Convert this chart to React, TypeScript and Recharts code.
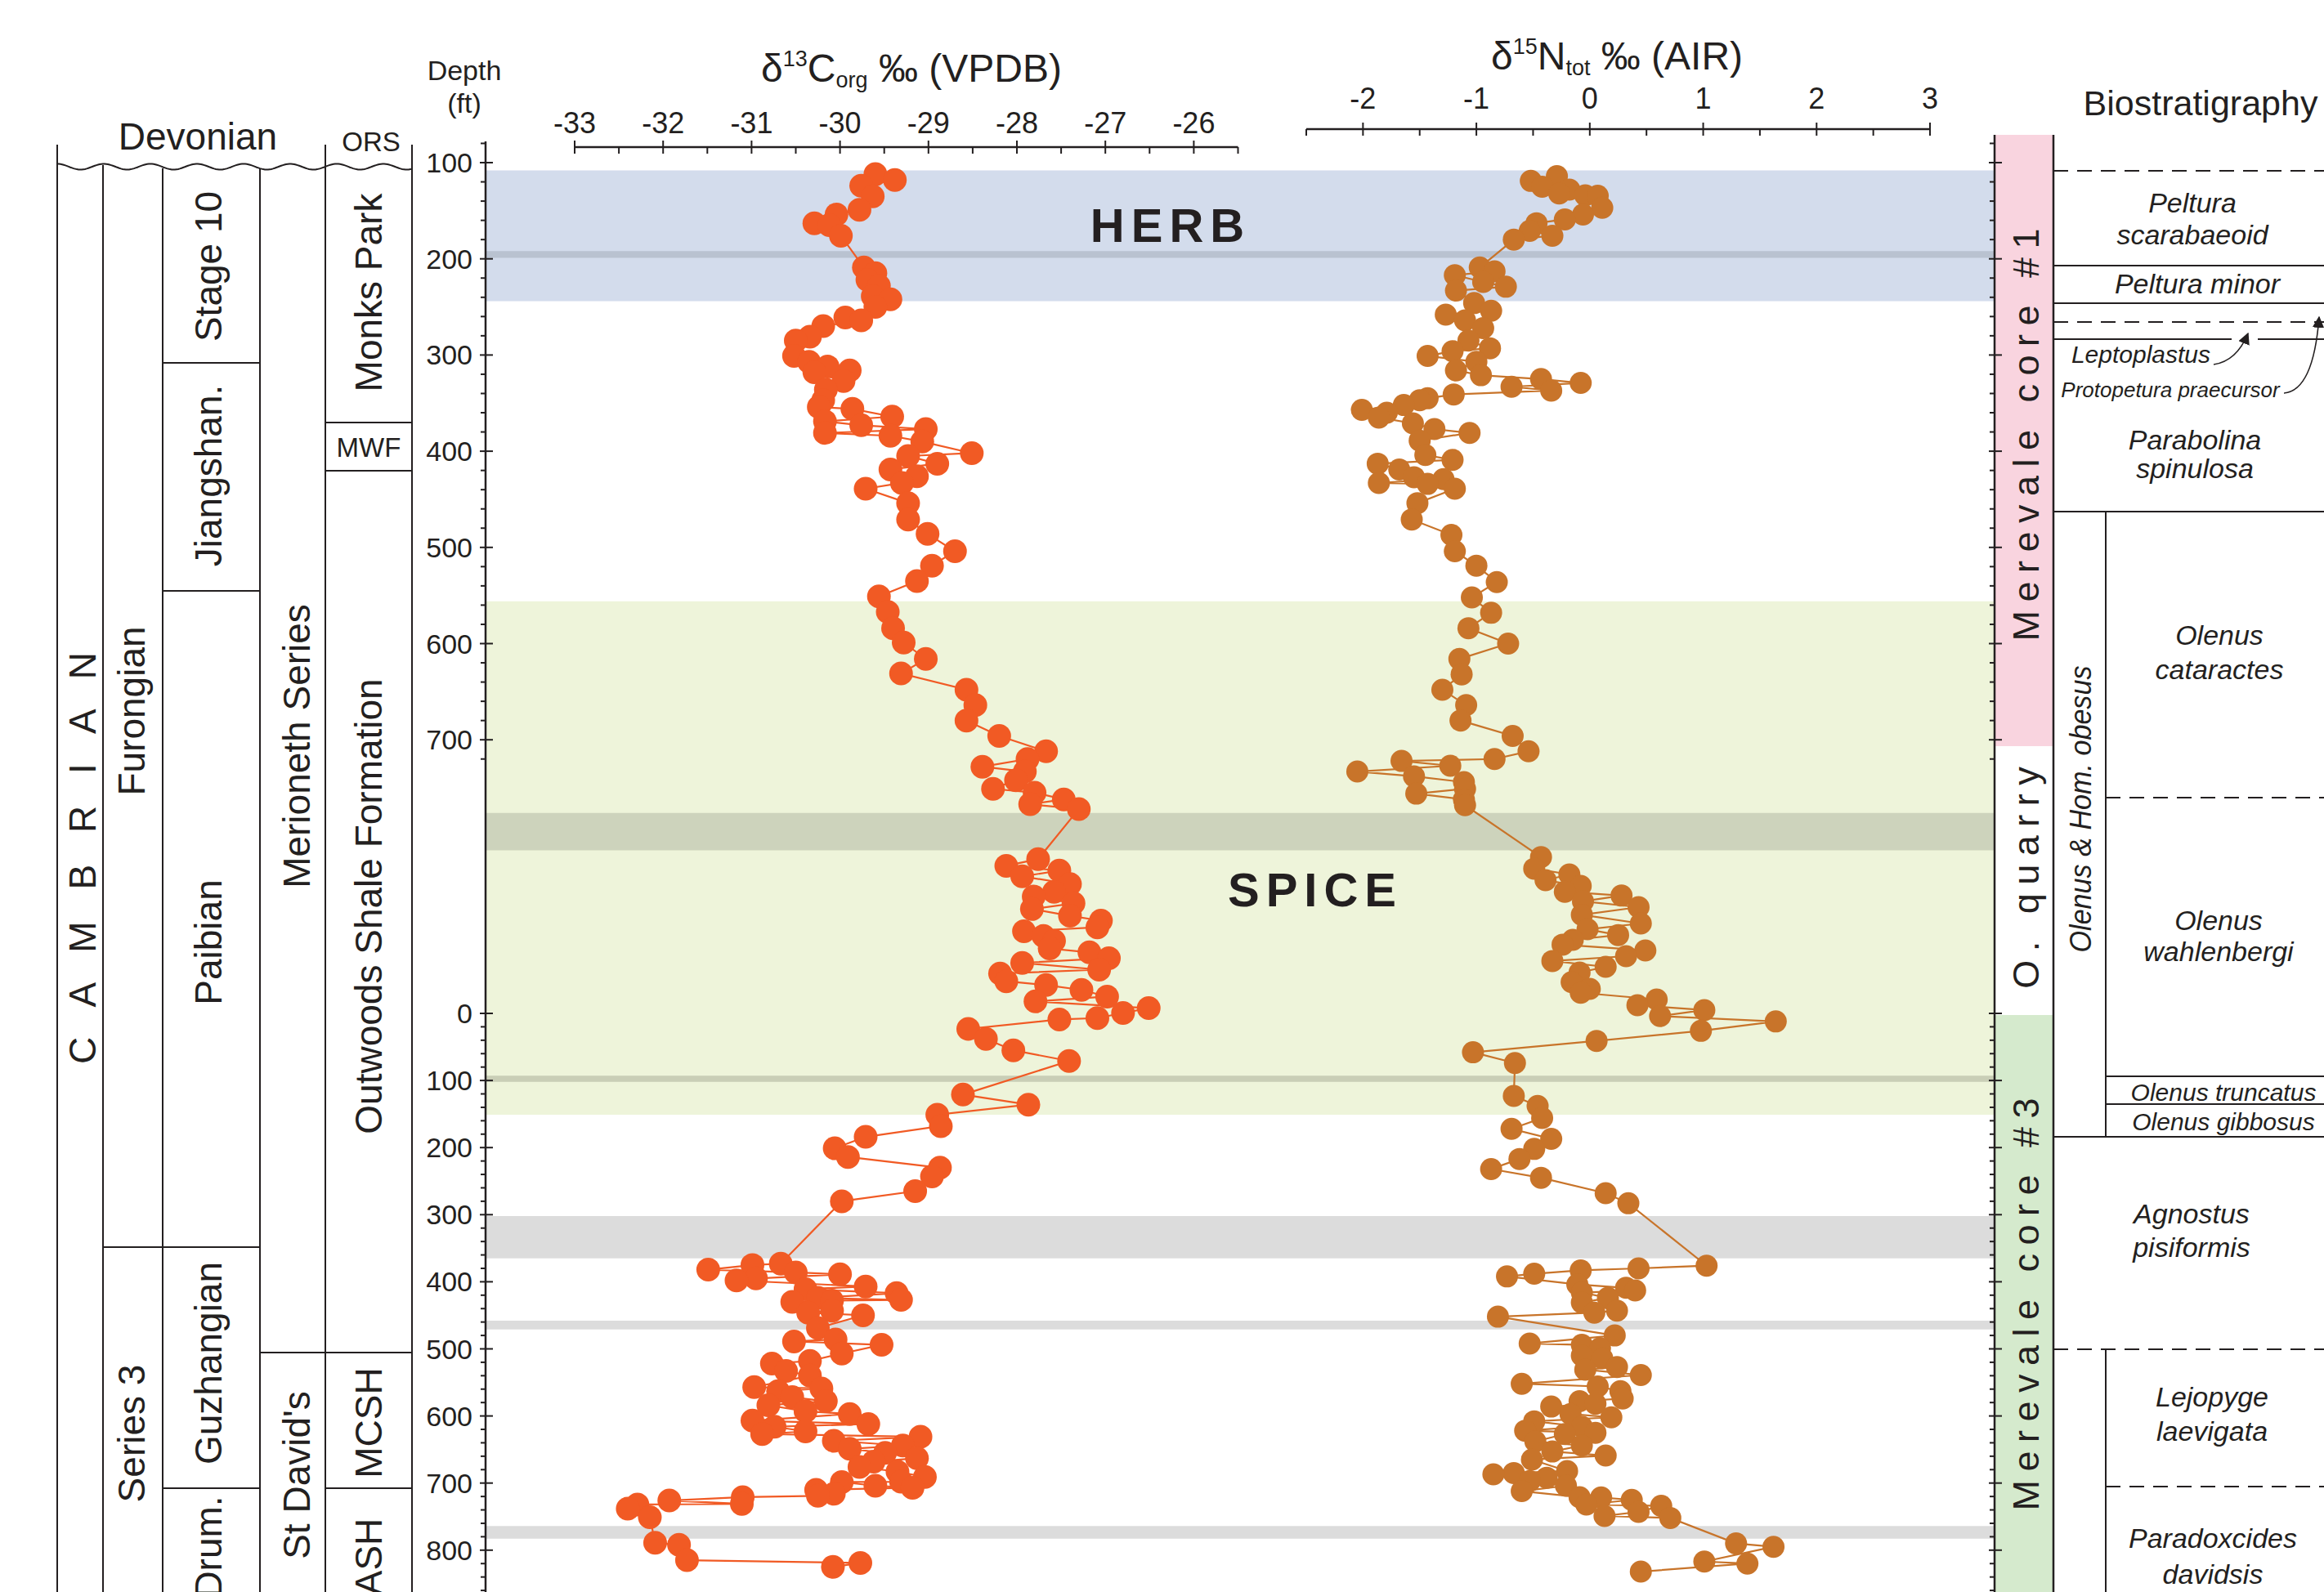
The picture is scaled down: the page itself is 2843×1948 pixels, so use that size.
import React from "react";
import { ComposedChart, Line, XAxis, YAxis, ReferenceArea } from "recharts";

const W = 2843;
const H = 1948;
const INK = "#231f20";
const FONT = '"Liberation Sans", Arial, Helvetica, sans-serif';
const C_COLOR = "#f15a24";
const N_COLOR = "#c8742a";

// vertical scale: Merevale core #1 (and O. quarry below it) in ft, core #3 with its own, tighter scale
const Y100 = 199;
const PX_FT = 1.177;
const CORE3_Y0 = 1240;
const CORE3_PX_FT = 0.821;
const posAt = (y: number) => 100 + (y - Y100) / PX_FT;
const core3Pos = (d: number) => posAt(CORE3_Y0 + d * CORE3_PX_FT);

type Pt = [number, number];

// [d13C, depth] — Merevale core #1 + O. quarry (positions on the core #1 scale)
const c13Core1: Pt[] = [
  [-29.38, 118], [-29.6, 112], [-29.76, 124], [-29.63, 135], [-29.78, 149], [-30.04, 154], [-30.29, 163],
  [-30.12, 165], [-29.99, 176], [-29.73, 209], [-29.6, 215], [-29.69, 222], [-29.56, 228], [-29.43, 242],
  [-29.63, 239], [-29.6, 250], [-29.76, 264], [-29.94, 261], [-30.19, 270], [-30.34, 281], [-30.5, 285],
  [-30.52, 301], [-30.35, 307], [-30.29, 318], [-30.14, 312], [-29.89, 316], [-29.96, 327], [-30.16, 336],
  [-30.19, 347], [-30.24, 354], [-29.86, 356], [-29.76, 373], [-30.17, 369], [-30.17, 381], [-29.41, 364],
  [-29.43, 384], [-29.03, 377], [-29.07, 390], [-28.51, 402], [-29.23, 405], [-28.9, 413], [-29.43, 419],
  [-29.13, 426], [-29.3, 433], [-29.71, 439], [-29.23, 454], [-29.23, 471], [-29.01, 486], [-28.7, 504],
  [-28.96, 519], [-29.13, 535], [-29.56, 551], [-29.46, 567], [-29.4, 584], [-29.28, 599], [-29.03, 616],
  [-29.31, 631], [-28.57, 648], [-28.47, 664], [-28.57, 680], [-28.2, 696], [-27.67, 712], [-27.88, 720],
  [-28.39, 728], [-27.91, 733], [-28.01, 742], [-28.27, 751], [-27.8, 755], [-27.85, 767], [-27.47, 762],
  [-27.3, 772],
  [-27.76, 824], [-28.12, 831], [-27.94, 842], [-27.52, 836], [-27.4, 850], [-27.58, 858], [-27.81, 863],
  [-27.83, 876], [-27.36, 870], [-27.4, 883], [-27.05, 888], [-27.09, 895], [-27.92, 899], [-27.7, 904],
  [-27.58, 909], [-27.63, 917], [-27.18, 921], [-26.96, 927], [-27.94, 932], [-27.07, 939], [-28.19, 943],
  [-28.12, 951], [-27.67, 955], [-27.27, 960], [-26.98, 967], [-27.79, 972], [-26.51, 979], [-26.8, 984],
];

// [d13C, depth ft] — Merevale core #3
const c13Core3: Pt[] = [
  [-27.09, 7], [-27.52, 9], [-28.55, 23], [-28.35, 38], [-28.04, 55], [-27.41, 71], [-28.61, 121], [-27.87, 136],
  [-28.9, 151], [-28.86, 168], [-29.71, 184], [-30.06, 201], [-29.91, 214], [-28.87, 230], [-28.96, 243],
  [-29.15, 265], [-29.98, 280], [-30.67, 373], [-30.99, 375], [-31.49, 382], [-31.17, 398], [-30.95, 395],
  [-30.5, 386], [-30.0, 389], [-29.71, 407], [-29.36, 417], [-29.31, 427], [-30.39, 411], [-30.54, 430],
  [-30.25, 424], [-30.09, 428], [-30.36, 446], [-30.09, 443], [-29.74, 450], [-30.25, 469], [-30.52, 489],
  [-29.53, 494], [-30.05, 486], [-29.98, 507], [-30.34, 518], [-30.77, 522], [-30.61, 533], [-30.34, 540],
  [-30.97, 557], [-30.7, 563], [-30.21, 559], [-30.81, 584], [-30.54, 572], [-30.16, 578], [-30.39, 593],
  [-29.89, 597], [-30.99, 607], [-30.74, 616], [-30.88, 627], [-30.39, 623], [-29.68, 612], [-30.07, 637],
  [-29.89, 649], [-29.09, 631], [-29.29, 644], [-29.49, 655], [-29.13, 663], [-29.78, 676], [-29.62, 668],
  [-29.35, 683], [-29.04, 691], [-29.31, 698], [-29.18, 707], [-29.98, 698.5], [-29.6, 704], [-30.27, 710],
  [-30.07, 716], [-30.25, 719], [-31.1, 721], [-31.11, 731], [-31.93, 726], [-32.4, 738], [-32.29, 732],
  [-32.15, 751], [-32.09, 789], [-31.82, 792], [-31.73, 815], [-30.08, 825], [-29.77, 819],
];

// [d15N, depth] — Merevale core #1 + O. quarry
const n15Core1: Pt[] = [
  [-0.52, 119], [-0.42, 125], [-0.29, 114], [-0.27, 132], [-0.18, 128], [-0.04, 134], [0.07, 134.5], [0.11, 147],
  [-0.06, 154], [-0.22, 159], [-0.33, 176], [-0.47, 163], [-0.53, 171], [-0.67, 180], [-0.97, 209], [-0.84, 213],
  [-1.19, 217], [-1.18, 233], [-0.74, 229], [-0.94, 224], [-1.02, 246], [-0.87, 254], [-1.27, 258], [-1.1, 264],
  [-0.94, 272], [-1.07, 285], [-0.88, 293], [-1.43, 301], [-1.21, 296], [-1.0, 307], [-1.18, 316], [-0.96, 321],
  [-0.43, 325], [-0.08, 329], [-0.34, 337], [-0.69, 333], [-1.2, 341], [-1.43, 345], [-1.64, 352], [-1.5, 347],
  [-2.01, 357], [-1.86, 365], [-1.79, 360], [-1.56, 371], [-1.37, 377], [-1.06, 381], [-1.5, 389], [-1.45, 404],
  [-1.87, 413], [-1.21, 409], [-1.68, 419], [-1.55, 427], [-1.86, 433], [-1.43, 434], [-1.29, 429], [-1.19, 439],
  [-1.52, 454], [-1.57, 471], [-1.22, 487], [-1.19, 504], [-1.0, 519], [-0.82, 536], [-1.04, 552], [-0.87, 568],
  [-1.07, 584], [-0.72, 600], [-1.15, 616], [-1.13, 632], [-1.3, 648], [-1.09, 664], [-1.14, 680], [-0.68, 696],
  [-0.54, 712], [-0.84, 720], [-1.66, 722], [-2.05, 733], [-1.23, 727], [-1.55, 738], [-1.11, 744], [-1.53, 756],
  [-1.1, 751], [-1.11, 762], [-1.1, 768],
  [-0.43, 822], [-0.49, 834], [-0.39, 846], [-0.18, 840], [-0.22, 858], [-0.08, 852], [0.28, 862], [-0.06, 868],
  [0.43, 874], [-0.07, 882], [0.45, 891], [-0.02, 897], [0.25, 903], [-0.15, 908], [-0.24, 913], [0.49, 919],
  [0.32, 925], [-0.33, 930], [0.14, 936], [-0.09, 942], [-0.16, 952], [0.0, 959], [-0.08, 963], [0.42, 976],
  [0.59, 970], [1.01, 981],
];

// [d15N, depth ft] — Merevale core #3
const n15Core3: Pt[] = [
  [0.62, 4], [1.64, 12], [0.98, 26], [0.06, 41], [-1.03, 58], [-0.66, 74], [-0.67, 123], [-0.46, 138],
  [-0.42, 156], [-0.69, 172], [-0.34, 187], [-0.49, 202], [-0.62, 217], [-0.87, 232], [-0.43, 245], [0.14, 268],
  [0.34, 283], [1.03, 376], [0.43, 380], [-0.08, 383], [-0.49, 388], [-0.73, 392], [-0.11, 404], [-0.07, 416],
  [0.4, 413], [0.32, 409], [0.16, 424], [-0.07, 431], [0.04, 446], [0.24, 443], [-0.81, 452], [0.22, 480],
  [-0.53, 492], [-0.07, 494], [0.09, 499], [-0.07, 510], [0.11, 514], [-0.04, 531], [0.24, 527], [0.45, 539],
  [-0.6, 552], [0.07, 556], [0.27, 563], [0.29, 574], [-0.09, 578], [0.05, 582], [-0.34, 586], [-0.17, 597],
  [0.19, 602], [-0.49, 608], [-0.07, 616], [-0.57, 622], [-0.22, 627], [0.05, 625], [-0.48, 638], [-0.07, 644],
  [-0.33, 653], [0.14, 659], [-0.51, 665], [-0.2, 682], [-0.85, 687], [-0.67, 685], [-0.38, 692], [-0.53, 697],
  [-0.6, 712], [-0.21, 704], [-0.09, 721], [-0.03, 732], [0.1, 721.5], [0.37, 725], [0.13, 749], [0.43, 743],
  [0.63, 734], [0.71, 752], [1.29, 790], [1.62, 795], [1.01, 817], [1.39, 820], [0.45, 832],
];

const c13Ticks = [-33, -32.5, -32, -31.5, -31, -30.5, -30, -29.5, -29, -28.5, -28, -27.5, -27, -26.5, -26, -25.5];
const n15Ticks = [-2.5, -2, -1.5, -1, -0.5, 0, 0.5, 1, 1.5, 2, 2.5, 3];
const core1DepthLabels = [100, 200, 300, 400, 500, 600, 700];
const core3DepthLabels = [0, 100, 200, 300, 400, 500, 600, 700, 800];

type DTick = { pos: number; label: string | null };
const depthTicks: DTick[] = [];
for (let d = 80; d <= 720; d += 20) depthTicks.push({ pos: d, label: core1DepthLabels.includes(d) ? String(d) : null });
for (let d = 0; d <= 860; d += 20) depthTicks.push({ pos: core3Pos(d), label: core3DepthLabels.includes(d) ? String(d) : null });

const toRows = (core1: Pt[], core3: Pt[]) =>
  [...core1.map(([v, d]) => ({ v, pos: d })), ...core3.map(([v, d]) => ({ v, pos: core3Pos(d) }))].sort(
    (a, b) => a.pos - b.pos
  );
const c13Rows = toRows(c13Core1, c13Core3);
const n15Rows = toRows(n15Core1, n15Core3);

// shaded intervals (depth positions)
const bands = [
  { y1: 108, y2: 244, fill: "#d3dcec" },
  { y1: 192, y2: 199, fill: "#b9c2d0" },
  { y1: 556, y2: core3Pos(151), fill: "#eef4da" },
  { y1: 776, y2: 815, fill: "#cdd3bc" },
  { y1: core3Pos(93), y2: core3Pos(102), fill: "#c9ceb6" },
  { y1: core3Pos(302), y2: core3Pos(365), fill: "#dcdcdc" },
  { y1: core3Pos(458), y2: core3Pos(471), fill: "#dcdcdc" },
  { y1: core3Pos(764), y2: core3Pos(783), fill: "#dcdcdc" },
];

const AXIS_X = 594;
const BAR_X = 2440;
const BG_TOP = 173;
const C_TOP = 180;
const N_TOP = 158;
const AX_H = 40;

// two anchor rows so the background chart has a computed x domain
const frameRows = [
  { x: 0, pos: 100 },
  { x: 1, pos: 100 },
];

function DepthTick(props: any) {
  const { y, payload, side } = props;
  const t = depthTicks.find((k) => Math.abs(k.pos - payload.value) < 1e-6);
  const ax = side === "left" ? AXIS_X : BAR_X;
  const major = !!(t && t.label);
  return (
    <g>
      <line x1={major ? ax - 7 : ax - 6} x2={major ? ax + 9 : ax} y1={y} y2={y} stroke={INK} strokeWidth={2} />
      {major && side === "left" && (
        <text x={ax - 16} y={y} dy={12} textAnchor="end" fontSize={34} fill={INK} fontFamily={FONT}>
          {t!.label}
        </text>
      )}
    </g>
  );
}

function TopTick(props: any) {
  const { x, payload, axisY, labelGap } = props;
  const v = payload.value as number;
  const major = Number.isInteger(v);
  return (
    <g>
      <line x1={x} x2={x} y1={major ? axisY - 8 : axisY} y2={axisY + 8} stroke={INK} strokeWidth={2} />
      {major && (
        <text x={x} y={axisY - labelGap} textAnchor="middle" fontSize={36} fill={INK} fontFamily={FONT}>
          {v}
        </text>
      )}
    </g>
  );
}

function Background() {
  return (
    <div style={{ position: "absolute", left: 0, top: 0 }}>
      <ComposedChart
        width={W}
        height={H}
        data={frameRows}
        margin={{ top: BG_TOP, right: W - BAR_X - 60, bottom: 0, left: AXIS_X - 60 }}
      >
        <XAxis type="number" dataKey="x" domain={[0, 1]} allowDataOverflow hide />
        <YAxis
          yAxisId="depth"
          type="number"
          width={60}
          domain={[posAt(BG_TOP), posAt(H)]}
          reversed
          allowDataOverflow
          ticks={depthTicks.map((t) => t.pos)}
          interval={0}
          axisLine={{ stroke: INK, strokeWidth: 2.5 }}
          tickLine={false}
          tick={(p: any) => <DepthTick {...p} side="left" />}
        />
        <YAxis
          yAxisId="bar"
          orientation="right"
          type="number"
          width={60}
          domain={[posAt(BG_TOP), posAt(H)]}
          reversed
          allowDataOverflow
          ticks={depthTicks.map((t) => t.pos)}
          interval={0}
          axisLine={false}
          tickLine={false}
          tick={(p: any) => <DepthTick {...p} side="right" />}
        />
        {bands.map((b, i) => (
          <ReferenceArea
            key={i}
            yAxisId="depth"
            x1={0}
            x2={1}
            y1={b.y1}
            y2={b.y2}
            fill={b.fill}
            fillOpacity={1}
            stroke="none"
            ifOverflow="visible"
          />
        ))}
        <Line
          yAxisId="depth"
          dataKey="pos"
          stroke="none"
          dot={false}
          activeDot={false}
          isAnimationActive={false}
        />
      </ComposedChart>
    </div>
  );
}

function IsotopeChart(props: {
  rows: { v: number; pos: number }[];
  ticks: number[];
  top: number;
  left: number;
  right: number;
  color: string;
  r: number;
  labelGap: number;
}) {
  const { rows, ticks, top, left, right, color, r, labelGap } = props;
  return (
    <div style={{ position: "absolute", left: 0, top: 0 }}>
      <ComposedChart width={W} height={H} data={rows} margin={{ top: top - AX_H, right: W - right, bottom: 0, left }}>
        <XAxis
          type="number"
          dataKey="v"
          orientation="top"
          domain={[ticks[0], ticks[ticks.length - 1]]}
          ticks={ticks}
          interval={0}
          height={AX_H}
          allowDataOverflow
          axisLine={{ stroke: INK, strokeWidth: 2.5 }}
          tickLine={false}
          tick={(p: any) => <TopTick {...p} axisY={top} labelGap={labelGap} />}
        />
        <YAxis type="number" dataKey="pos" domain={[posAt(top), posAt(H)]} reversed hide allowDataOverflow />
        <Line
          dataKey="pos"
          stroke={color}
          strokeWidth={2.2}
          dot={{ r, fill: color, stroke: color, strokeWidth: 0 }}
          activeDot={false}
          isAnimationActive={false}
        />
      </ComposedChart>
    </div>
  );
}

function VText(props: {
  x: number;
  y: number;
  children: React.ReactNode;
  size?: number;
  ls?: number;
  italic?: boolean;
  length?: number;
}) {
  const { x, y, children, size = 46, ls = 0, italic = false, length } = props;
  return (
    <text
      transform={`translate(${x},${y}) rotate(-90)`}
      x={ls / 2}
      dy="0.35em"
      textAnchor="middle"
      fontSize={size}
      fill={INK}
      fontStyle={italic ? "italic" : "normal"}
      style={{ letterSpacing: ls }}
      textLength={length}
      lengthAdjust={length ? "spacingAndGlyphs" : undefined}
    >
      {children}
    </text>
  );
}

const wavePath = (() => {
  let d = "";
  for (let x = 70; x <= 504; x += 2) {
    const y = 204 - 3.5 * Math.cos(((x - 70) / 57) * 2 * Math.PI);
    d += (x === 70 ? "M" : "L") + x + "," + y.toFixed(1);
  }
  return d;
})();

const biostratNames: [string, number, number, number][] = [
  ["Peltura", 2682, 260, 34],
  ["scarabaeoid", 2682, 299, 34],
  ["Peltura minor", 2688, 359, 34],
  ["Leptoplastus", 2619, 444, 30],
  ["Protopetura praecursor", 2655, 486, 26],
  ["Parabolina", 2685, 550, 34],
  ["spinulosa", 2685, 585, 34],
  ["Olenus", 2715, 789, 34],
  ["cataractes", 2715, 831, 34],
  ["Olenus", 2714, 1138, 34],
  ["wahlenbergi", 2714, 1176, 34],
  ["Olenus truncatus", 2720, 1347, 30],
  ["Olenus gibbosus", 2720, 1383, 30],
  ["Agnostus", 2681, 1497, 34],
  ["pisiformis", 2681, 1538, 34],
  ["Lejopyge", 2706, 1721, 34],
  ["laevigata", 2706, 1763, 34],
  ["Paradoxcides", 2707, 1894, 34],
  ["davidsis", 2707, 1938, 34],
];

function Annotations() {
  const ln = { stroke: INK, strokeWidth: 2 };
  const dash = { stroke: INK, strokeWidth: 2, strokeDasharray: "18 11" };
  return (
    <svg
      width={W}
      height={H}
      style={{ position: "absolute", left: 0, top: 0, pointerEvents: "none" }}
      fontFamily={FONT}
    >
      <defs>
        <marker id="arr" viewBox="0 0 10 10" refX="9" refY="5" markerWidth="9" markerHeight="9" orient="auto">
          <path d="M0,0 L10,5 L0,10 z" fill={INK} />
        </marker>
      </defs>

      {/* depth axis title and isotope titles */}
      <text x={568} y={98} textAnchor="middle" fontSize={34} fill={INK}>Depth</text>
      <text x={568} y={138} textAnchor="middle" fontSize={34} fill={INK}>(ft)</text>
      <text x={1115} y={100} textAnchor="middle" fontSize={48} fill={INK}>
        δ<tspan fontSize={27} dy={-19}>13</tspan>
        <tspan dy={19}>C</tspan>
        <tspan fontSize={27} dy={7}>org</tspan>
        <tspan dy={-7}> ‰ (VPDB)</tspan>
      </text>
      <text x={1978} y={85} textAnchor="middle" fontSize={48} fill={INK}>
        δ<tspan fontSize={27} dy={-19}>15</tspan>
        <tspan dy={19}>N</tspan>
        <tspan fontSize={27} dy={7}>tot</tspan>
        <tspan dy={-7}> ‰ (AIR)</tspan>
      </text>

      {/* chronostratigraphic columns */}
      <path d={wavePath} fill="none" stroke={INK} strokeWidth={2} />
      <line x1={70} y1={177} x2={70} y2={H} {...ln} />
      <line x1={126} y1={202} x2={126} y2={H} {...ln} />
      <line x1={199} y1={206} x2={199} y2={H} {...ln} />
      <line x1={318} y1={206} x2={318} y2={H} {...ln} />
      <line x1={398} y1={177} x2={398} y2={H} {...ln} />
      <line x1={504} y1={177} x2={504} y2={H} {...ln} />
      <line x1={126} y1={1526} x2={199} y2={1526} {...ln} />
      <line x1={199} y1={444} x2={318} y2={444} {...ln} />
      <line x1={199} y1={723} x2={318} y2={723} {...ln} />
      <line x1={199} y1={1526} x2={318} y2={1526} {...ln} />
      <line x1={199} y1={1821} x2={318} y2={1821} {...ln} />
      <line x1={318} y1={1655} x2={398} y2={1655} {...ln} />
      <line x1={398} y1={517} x2={504} y2={517} {...ln} />
      <line x1={398} y1={576} x2={504} y2={576} {...ln} />
      <line x1={398} y1={1655} x2={504} y2={1655} {...ln} />
      <line x1={398} y1={1821} x2={504} y2={1821} {...ln} />

      <text x={242} y={183} textAnchor="middle" fontSize={46} fill={INK}>Devonian</text>
      <text x={454} y={185} textAnchor="middle" fontSize={33} fill={INK}>ORS</text>
      <VText x={101} y={1050} ls={13}>C A M B R I A N</VText>
      <VText x={161} y={870}>Furongian</VText>
      <VText x={161} y={1754}>Series 3</VText>
      <VText x={255} y={326}>Stage 10</VText>
      <VText x={255} y={582}>Jiangshan.</VText>
      <VText x={255} y={1153}>Paibian</VText>
      <VText x={255} y={1668}>Guzhangian</VText>
      <VText x={255} y={1893}>Drum.</VText>
      <VText x={363} y={913}>Merioneth Series</VText>
      <VText x={363} y={1805}>St David's</VText>
      <VText x={451} y={358}>Monks Park</VText>
      <text x={451} y={559} textAnchor="middle" fontSize={33} fill={INK}>MWF</text>
      <VText x={451} y={1109}>Outwoods Shale Formation</VText>
      <VText x={451} y={1741}>MCSH</VText>
      <VText x={451} y={1905}>ASH</VText>

      {/* event labels */}
      <text x={1432} y={296} textAnchor="middle" fontSize={58} fontWeight="bold" fill={INK} style={{ letterSpacing: 8 }}>
        HERB
      </text>
      <text x={1609} y={1109} textAnchor="middle" fontSize={58} fontWeight="bold" fill={INK} style={{ letterSpacing: 8 }}>
        SPICE
      </text>

      {/* section bar */}
      <line x1={BAR_X} y1={165} x2={BAR_X} y2={H} stroke={INK} strokeWidth={2.5} />
      <line x1={2512} y1={165} x2={2512} y2={H} stroke={INK} strokeWidth={2.5} />
      <VText x={2478} y={532} size={45} ls={10.5}>Merevale core #1</VText>
      <VText x={2478} y={1074} size={45} ls={10.5}>O. quarry</VText>
      <VText x={2478} y={1596} size={45} ls={10.5}>Merevale core #3</VText>

      {/* biostratigraphy */}
      <text x={2692} y={141} textAnchor="middle" fontSize={43} fill={INK}>Biostratigraphy</text>
      <line x1={2512} y1={209} x2={W} y2={209} {...dash} />
      <line x1={2512} y1={325} x2={W} y2={325} {...ln} />
      <line x1={2512} y1={371} x2={W} y2={371} {...ln} />
      <line x1={2512} y1={394} x2={W} y2={394} {...dash} />
      <line x1={2512} y1={415} x2={2730} y2={415} {...ln} />
      <line x1={2762} y1={415} x2={W} y2={415} {...ln} />
      <line x1={2512} y1={626} x2={W} y2={626} {...ln} />
      <line x1={2576} y1={626} x2={2576} y2={1391} {...ln} />
      <line x1={2576} y1={976} x2={W} y2={976} {...dash} />
      <line x1={2576} y1={1317} x2={W} y2={1317} {...ln} />
      <line x1={2576} y1={1351} x2={W} y2={1351} {...ln} />
      <line x1={2512} y1={1391} x2={W} y2={1391} {...ln} />
      <line x1={2512} y1={1651} x2={W} y2={1651} {...dash} />
      <line x1={2576} y1={1651} x2={2576} y2={H} {...ln} />
      <line x1={2576} y1={1819} x2={W} y2={1819} {...dash} />
      <path d="M2708,446 Q2736,442 2750,408" fill="none" stroke={INK} strokeWidth={1.6} markerEnd="url(#arr)" />
      <path d="M2794,481 Q2830,478 2837,388" fill="none" stroke={INK} strokeWidth={1.6} markerEnd="url(#arr)" />
      {biostratNames.map(([name, x, y, s], i) => (
        <text key={i} x={x} y={y} textAnchor="middle" fontSize={s} fontStyle="italic" fill={INK}>
          {name}
        </text>
      ))}
      <VText x={2545} y={990} size={36} italic length={351}>Olenus &amp; Hom. obesus</VText>
    </svg>
  );
}

export default function App() {
  return (
    <div
      style={{
        position: "relative",
        width: W,
        height: H,
        overflow: "hidden",
        background: "#ffffff",
        fontFamily: FONT,
      }}
    >
      <style>{"body{margin:0}"}</style>
      <svg width={W} height={H} style={{ position: "absolute", left: 0, top: 0 }}>
        <rect x={BAR_X} y={165} width={2512 - BAR_X} height={913 - 165} fill="#f9d4df" />
        <rect x={BAR_X} y={1242} width={2512 - BAR_X} height={H - 1242} fill="#d5eacd" />
      </svg>
      <Background />
      <IsotopeChart rows={c13Rows} ticks={c13Ticks} top={C_TOP} left={703} right={1514.5} color={C_COLOR} r={14.5} labelGap={17} />
      <IsotopeChart rows={n15Rows} ticks={n15Ticks} top={N_TOP} left={1598} right={2361} color={N_COLOR} r={13.5} labelGap={25} />
      <Annotations />
    </div>
  );
}
